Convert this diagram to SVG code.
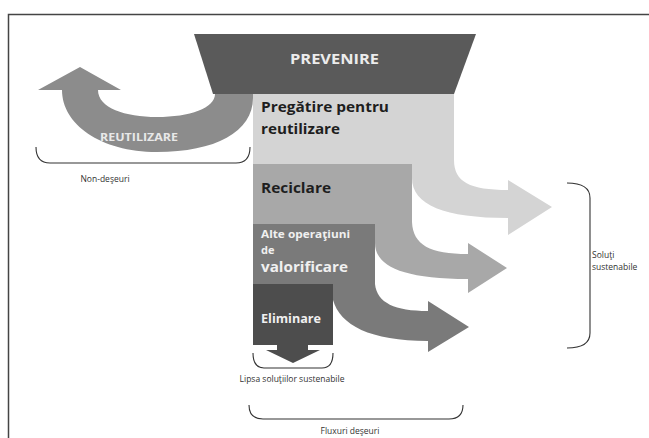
<svg xmlns="http://www.w3.org/2000/svg" width="649" height="438" viewBox="0 0 649 438">
<style>
.bx{font-family:"Open Sans","Liberation Sans",sans-serif;font-weight:bold}
.lbl{font-family:"Open Sans","Liberation Sans",sans-serif;font-size:8.5px;fill:#333}
.br{fill:none;stroke:#333;stroke-width:1.1}
</style>
<rect x="0" y="0" width="649" height="438" fill="#ffffff"/>
<rect x="8.5" y="14.5" width="660" height="440" fill="none" stroke="#444" stroke-width="1.5"/>
<g id="connectors">
  <path id="arrow-reutilizare" d="M253,94 L253,98 C253,132 215,152 157,152 C100,152 62,124 62,90 L38,90 L80,67 L121,90 L98,90 C98,108 125,117 157,117 C190,117 215,108 215,94 Z" fill="#8c8c8c"/>
  <path id="arrow-pregatire" d="M412,150 L454,150 L454,160 C454,182 470,190 508,190 L508,180 L552,207 L508,235 L508,218 C445,218 412,205 412,178 Z" fill="#d4d4d4"/>
  <path id="arrow-reciclare" d="M375,210 L412,210 L412,222 C413,245 430,254 468,254 L468,243 L507,268 L468,293 L468,279 C400,279 375,265 375,243 Z" fill="#a8a8a8"/>
  <path id="arrow-valorificare" d="M333,270 L375,270 L375,284 C377,303 395,311 428,311 L428,301 L469,327 L428,352 L428,341 C370,341 340,325 333,300 Z" fill="#7a7a7a"/>
  <path id="arrow-eliminare" d="M277,340 L308,340 L308,350 L320,350 L293,363 L266,350 L277,350 Z" fill="#4d4d4d"/>
</g>
<g id="prevenire">
  <polygon points="194,34 476,34 454,94 213,94" fill="#5a5a5a"/>
  <text class="bx" x="290" y="64" font-size="14" fill="#ececec" textLength="89" lengthAdjust="spacingAndGlyphs">PREVENIRE</text>
</g>
<g id="reutilizare">
  <text class="bx" x="100" y="141" font-size="11" fill="#e8e8e8" textLength="78" lengthAdjust="spacingAndGlyphs">REUTILIZARE</text>
</g>
<g id="pregatire">
  <rect x="253" y="94" width="201" height="70" fill="#d4d4d4"/>
  <text class="bx" x="261" y="112" font-size="14" fill="#1e1e1e" textLength="128" lengthAdjust="spacingAndGlyphs">Pregătire pentru</text>
  <text class="bx" x="261" y="134" font-size="14" fill="#1e1e1e" textLength="79" lengthAdjust="spacingAndGlyphs">reutilizare</text>
</g>
<g id="reciclare">
  <rect x="253" y="164" width="159" height="60" fill="#a8a8a8"/>
  <text class="bx" x="261" y="193" font-size="14" fill="#1e1e1e" textLength="70" lengthAdjust="spacingAndGlyphs">Reciclare</text>
</g>
<g id="valorificare">
  <rect x="253" y="224" width="122" height="60" fill="#7a7a7a"/>
  <text class="bx" x="261" y="238" font-size="11" fill="#f0f0f0" textLength="89" lengthAdjust="spacingAndGlyphs">Alte operaţiuni</text>
  <text class="bx" x="261" y="254" font-size="11" fill="#f0f0f0">de</text>
  <text class="bx" x="261" y="272" font-size="14.5" fill="#f0f0f0" textLength="87" lengthAdjust="spacingAndGlyphs">valorificare</text>
</g>
<g id="eliminare">
  <rect x="253" y="284" width="80" height="61" fill="#4d4d4d"/>
  <text class="bx" x="261" y="323" font-size="12" fill="#f0f0f0" textLength="60" lengthAdjust="spacingAndGlyphs">Eliminare</text>
</g>
<g id="non-deseuri">
  <path class="br" d="M36,147 C36,157 40,163 50,163 L236,163 C246,163 250,157 250,147"/>
  <text class="lbl" x="105" y="182" text-anchor="middle">Non-deşeuri</text>
</g>
<g id="lipsa">
  <path class="br" d="M253,353 C253,363 256,368 264,368 L322,368 C330,368 333,363 333,353"/>
  <text class="lbl" x="292" y="382" text-anchor="middle">Lipsa soluţiilor sustenabile</text>
</g>
<g id="fluxuri">
  <path class="br" d="M249,405 C249,414 253,419 263,419 L449,419 C459,419 463,414 463,405"/>
  <text class="lbl" x="350" y="434" text-anchor="middle">Fluxuri deşeuri</text>
</g>
<g id="solutii">
  <path class="br" d="M567,183 C580,183 590,187 590,198 L590,333 C590,344 580,348 567,348"/>
  <text class="lbl" x="592" y="258">Soluţi</text>
  <text class="lbl" x="592" y="270">sustenabile</text>
</g>
</svg>
